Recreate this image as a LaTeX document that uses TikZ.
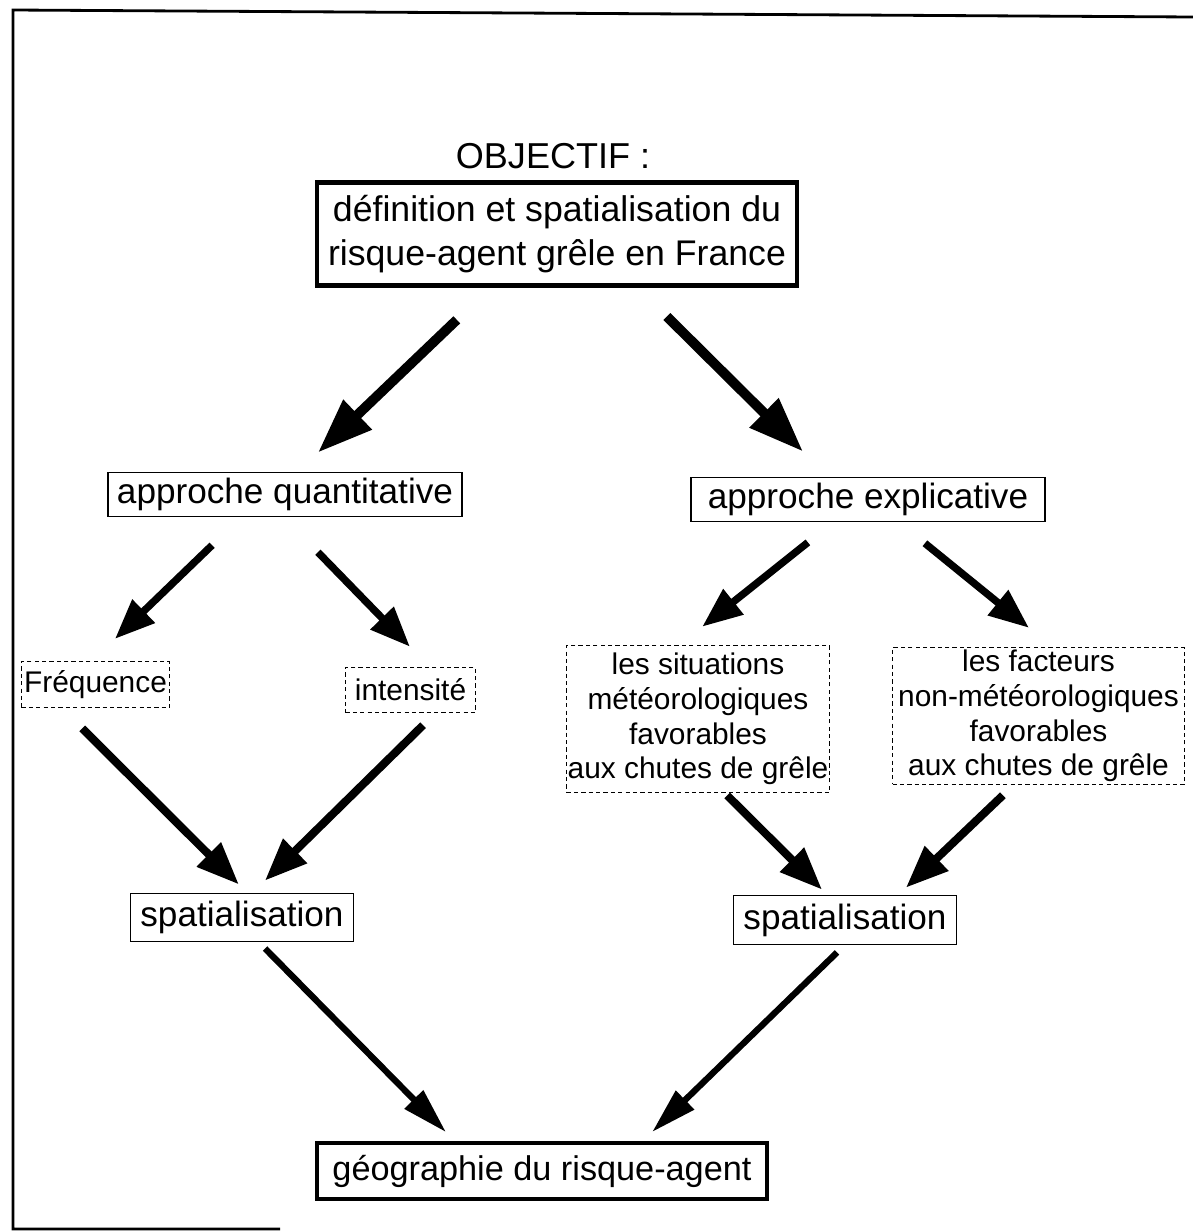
\documentclass[tikz,border=0pt]{standalone}
\usepackage{fontspec}
\setmainfont{Liberation Sans}
\usepackage{tikz}
\usetikzlibrary{positioning,arrows.meta,calc}
\tikzset{
  box/.style={draw, line width=1.1pt, align=center, inner sep=0pt, font=\fontsize{20}{24.4}\selectfont},
  heavybox/.style={box, line width=2.5pt, font=\fontsize{20.3}{25.4}\selectfont},
  dashbox/.style={draw, line width=0.9pt, dash pattern=on 2.4pt off 1.8pt, align=center, inner sep=0pt, font=\fontsize{17}{19.8}\selectfont},
  bigarr/.style={line width=5.6pt, -{Triangle[length=1.1cm,width=0.78cm]}},
  midarr/.style={line width=4.2pt, -{Triangle[length=0.8cm,width=0.62cm]}},
  lowarr/.style={line width=4.6pt, -{Triangle[length=0.85cm,width=0.65cm]}},
  longarr/.style={line width=3.6pt, -{Triangle[length=0.92cm,width=0.5cm]}},
}
\begin{document}
\begin{tikzpicture}[x=0.02cm, y=-0.02cm, font=\fontsize{20.5}{24.4}\selectfont]
\useasboundingbox (0,0) rectangle (1193,1231);
\draw[line width=1.6pt] (280,1229) -- (13,1229) -- (13,10) -- (1193,17);
\node (objtitle) at (553,156) {OBJECTIF :};
\node[heavybox, minimum width=9.6cm, minimum height=2.06cm] (obj) at (557,234) {définition et spatialisation du\\risque-agent grêle en France};
\node[box, minimum width=7.08cm, minimum height=0.88cm] (quant) at (285,494.5) {approche quantitative};
\node[box, minimum width=7.08cm, minimum height=0.88cm] (expl) at (868,499.5) {approche explicative};
\node[dashbox, minimum width=2.96cm, minimum height=0.92cm] (freq) at (95.5,684.5) {Fréquence};
\node[dashbox, minimum width=2.6cm, minimum height=0.9cm] (intens) at (410.5,690) {intensité};
\node[dashbox, minimum width=5.26cm, minimum height=2.94cm] (situ) at (698,719) {les situations\\météorologiques\\favorables\\aux chutes de grêle};
\node[dashbox, minimum width=5.84cm, minimum height=2.74cm] (fact) at (1038.5,716) {les facteurs\\non-météorologiques\\favorables\\aux chutes de grêle};
\node[box, minimum width=4.46cm, minimum height=0.96cm] (spatL) at (242,917.5) {spatialisation};
\node[box, minimum width=4.46cm, minimum height=0.98cm] (spatR) at (845,920) {spatialisation};
\node[heavybox, line width=2.2pt, font=\fontsize{19.5}{24}\selectfont, minimum width=9.0cm, minimum height=1.12cm] (geo) at (542,1171) {géographie du risque-agent};
\draw[bigarr, shorten <=0.93cm, shorten >=0.55cm] ($(obj.south)+(-66.6,0)$) -- ($(quant.north)+(13.1,0)$);
\draw[bigarr, shorten <=0.82cm, shorten >=0.71cm] ($(obj.south)+(80.8,0)$) -- ($(expl.north)+(-39.8,0)$);
\draw[midarr, shorten <=0.80cm, shorten >=0.63cm] ($(quant.south)+(-44.1,0)$) -- ($(freq.north)+(-3.2,0)$);
\draw[midarr, shorten <=0.97cm, shorten >=0.56cm] ($(quant.south)+(-0.9,0)$) -- ($(intens.north)+(18.9,0)$);
\draw[midarr, shorten <=0.64cm, shorten >=0.58cm] ($(expl.south)+(-35.1,0)$) -- ($(situ.north)+(-18.4,0)$);
\draw[midarr, shorten <=0.66cm, shorten >=0.60cm] ($(expl.south)+(31.3,0)$) -- ($(fact.north)+(13.7,0)$);
\draw[lowarr, shorten <=0.57cm, shorten >=0.23cm] ($(freq.south)+(-33.5,0)$) -- ($(spatL.north)+(5,0)$);
\draw[lowarr, shorten <=0.34cm, shorten >=0.34cm] ($(intens.south)+(24.7,0)$) -- ($(spatL.north)+(10.8,0)$);
\draw[lowarr, shorten <=0.06cm, shorten >=0.14cm] ($(situ.south)+(27,0)$) -- ($(spatR.north)+(-18,0)$);
\draw[lowarr, shorten <=0.29cm, shorten >=0.20cm] ($(fact.south)+(-25.1,0)$) -- ($(spatR.north)+(53.7,0)$);
\draw[longarr, shorten <=0.17cm, shorten >=0.25cm] ($(spatL.south)+(17.1,0)$) -- ($(geo.north)+(-87.2,0)$);
\draw[longarr, shorten <=0.2cm, shorten >=0.26cm] ($(spatR.south)+(-0.8,0)$) -- ($(geo.north)+(100.8,0)$);
\end{tikzpicture}
\end{document}
